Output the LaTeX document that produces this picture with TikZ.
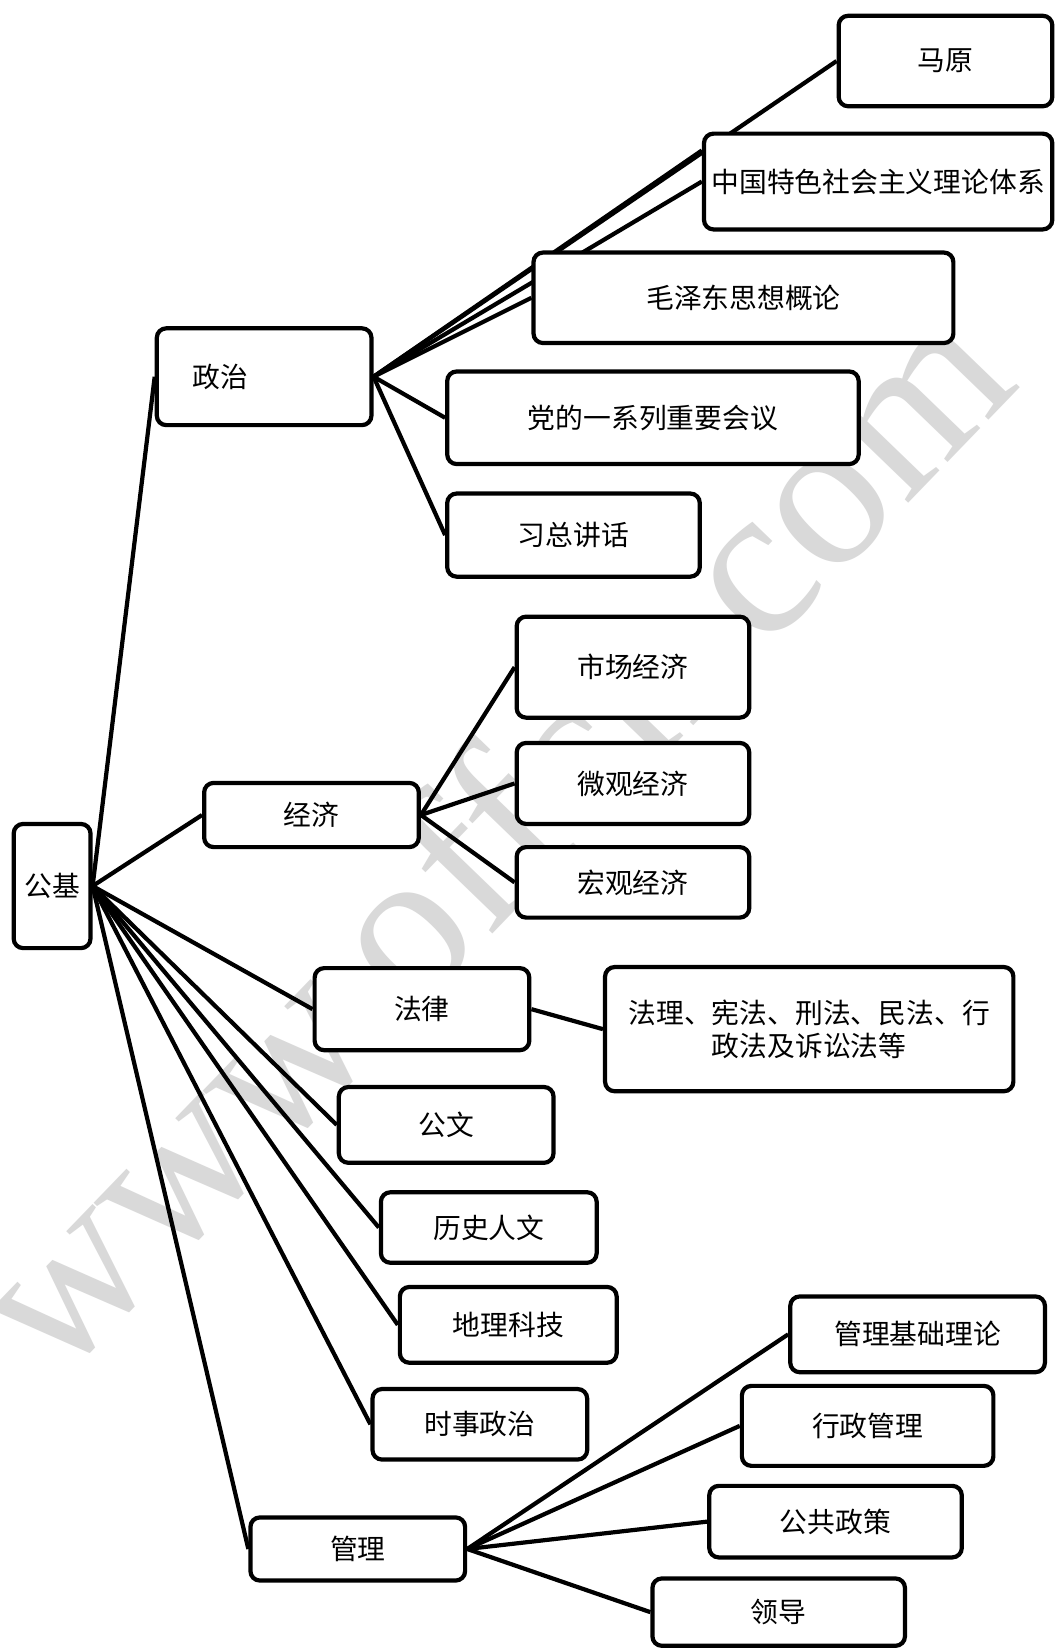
\documentclass[tikz,border=0pt]{standalone}
\usepackage{fontspec}
\setmainfont{Noto Sans CJK SC}
\newfontfamily\wmfont{Liberation Serif}
\pgfdeclarelayer{bg}
\pgfsetlayers{bg,main}
\tikzset{
  box/.style={draw=black, line width=2pt, rounded corners=4.5pt, fill=white,
    inner sep=0pt, align=center, font=\fontsize{13.2pt}{15.5pt}\selectfont},
  link/.style={draw=black, line width=2pt},
  wm/.style={rotate=46, text=black!15, font=\wmfont\fontsize{103pt}{103pt}\selectfont}
}
\begin{document}
\begin{tikzpicture}[x=0.5pt,y=-0.5pt]
\useasboundingbox (0,0) rectangle (1004,1568);
% politics branch
\node[box, minimum width=101.5pt, minimum height=43pt]   (mayuan)   at (898.5,58)   {马原};
\node[box, minimum width=165.5pt, minimum height=45.5pt] (zgts)     at (834.5,172.5) {中国特色社会主义理论体系};
\node[box, minimum width=199.5pt, minimum height=43pt]   (mzd)      at (706.5,283)  {毛泽东思想概论};
\node[box, minimum width=195.5pt, minimum height=44pt]   (dangde)   at (620.5,397)  {党的一系列重要会议};
\node[box, minimum width=120pt,   minimum height=39.5pt] (xizong)   at (545,508.5)  {习总讲话};
\node[box, align=left, text width=68pt, inner xsep=17pt, minimum height=46pt] (zhengzhi) at (251,358) {政治};
% economy branch
\node[box, minimum width=110.5pt, minimum height=48pt]   (shichang) at (601.5,634)  {市场经济};
\node[box, minimum width=110.5pt, minimum height=38.5pt] (weiguan)  at (601.5,744.5) {微观经济};
\node[box, minimum width=110.5pt, minimum height=33.5pt] (hongguan) at (601.5,838.5) {宏观经济};
\node[box, minimum width=102pt,   minimum height=30.5pt] (jingji)   at (296,774.5)  {经济};
% root
\node[box, minimum width=36.5pt,  minimum height=59pt]   (gongji)   at (49.5,842)   {公基};
% law
\node[box, minimum width=102pt,   minimum height=39pt]   (falv)     at (401,959)    {法律};
\node[box, minimum width=194pt,   minimum height=59pt]   (fali)     at (769,978)    {法理、宪法、刑法、民法、行\\政法及诉讼法等};
% other first-level
\node[box, minimum width=102pt,   minimum height=36pt]   (gongwen)  at (424,1069)   {公文};
\node[box, minimum width=102.5pt, minimum height=33.5pt] (lishi)    at (464.5,1166.5) {历史人文};
\node[box, minimum width=103pt,   minimum height=36pt]   (dili)     at (483,1259)   {地理科技};
\node[box, minimum width=102pt,   minimum height=33.5pt] (shishi)   at (456,1353.5) {时事政治};
% management
\node[box, minimum width=102pt,   minimum height=30pt]   (guanli)   at (340,1472)   {管理};
\node[box, minimum width=121pt,   minimum height=36pt]   (gljc)     at (872,1268)   {管理基础理论};
\node[box, minimum width=119.5pt, minimum height=38pt]   (xzgl)     at (824.5,1355) {行政管理};
\node[box, minimum width=120pt,   minimum height=34pt]   (ggzc)     at (794,1446)   {公共政策};
\node[box, minimum width=120pt,   minimum height=32pt]   (lingdao)  at (740,1532)   {领导};

\begin{pgfonlayer}{bg}
  \fill[white] (0,0) rectangle (1004,1568);
  \node[wm] (watermark) at (462,792) {www.offcn.com};
  % root connectors
  \draw[link] (gongji.east) -- (zhengzhi.west);
  \draw[link] (gongji.east) -- (jingji.west);
  \draw[link] (gongji.east) -- (falv.west);
  \draw[link] (gongji.east) -- (gongwen.west);
  \draw[link] (gongji.east) -- (lishi.west);
  \draw[link] (gongji.east) -- (dili.west);
  \draw[link] (gongji.east) -- (shishi.west);
  \draw[link] (gongji.east) -- (guanli.west);
  % politics
  \draw[link] (zhengzhi.east) -- (mayuan.west);
  \draw[link] (zhengzhi.east) -- (zgts.170);
  \draw[link] (zhengzhi.east) -- (zgts.west);
  \draw[link] (zhengzhi.east) -- (mzd.west);
  \draw[link] (zhengzhi.east) -- (dangde.west);
  \draw[link] (zhengzhi.east) -- (xizong.west);
  % economy
  \draw[link] (jingji.east) -- (shichang.west);
  \draw[link] (jingji.east) -- (weiguan.west);
  \draw[link] (jingji.east) -- (hongguan.west);
  % law
  \draw[link] (falv.east) -- (fali.west);
  % management
  \draw[link] (guanli.east) -- (gljc.west);
  \draw[link] (guanli.east) -- (xzgl.west);
  \draw[link] (guanli.east) -- (ggzc.west);
  \draw[link] (guanli.east) -- (lingdao.west);
\end{pgfonlayer}
\end{tikzpicture}
\end{document}
